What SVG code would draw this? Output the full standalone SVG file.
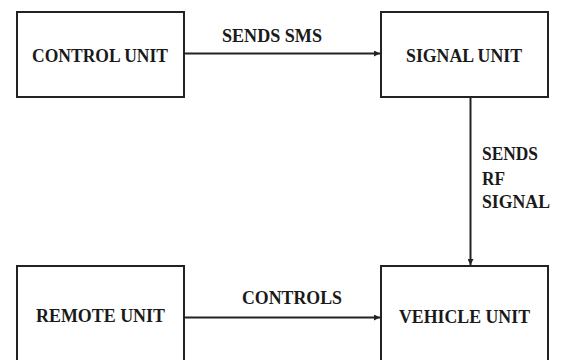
<svg xmlns="http://www.w3.org/2000/svg" width="561" height="360" viewBox="0 0 561 360">
  <style>
    .box { fill: #ffffff; stroke: #222222; stroke-width: 2; }
    .lbl { font-family: "Liberation Serif", "Times New Roman", serif; font-weight: bold; font-size: 19.5px; fill: #1a1a1a; }
    .wire { fill: none; stroke: #222222; stroke-width: 2; }
  </style>
  <defs>
    <marker id="tip" viewBox="0 0 6 6" refX="6" refY="3" markerWidth="6" markerHeight="6" markerUnits="userSpaceOnUse" orient="auto">
      <path d="M0,0 L6,3 L0,6 Z" fill="#222222"/>
    </marker>
  </defs>
  <rect width="561" height="360" fill="#ffffff"/>

  <g id="control-unit">
    <rect class="box" x="17" y="12" width="167" height="85"/>
    <text class="lbl" x="100" y="61.5" text-anchor="middle" textLength="136" lengthAdjust="spacingAndGlyphs">CONTROL UNIT</text>
  </g>
  <g id="signal-unit">
    <rect class="box" x="381" y="12" width="167" height="85"/>
    <text class="lbl" x="464" y="61.5" text-anchor="middle" textLength="116" lengthAdjust="spacingAndGlyphs">SIGNAL UNIT</text>
  </g>
  <g id="remote-unit">
    <rect class="box" x="17" y="266" width="167" height="100"/>
    <text class="lbl" x="100.5" y="322" text-anchor="middle" textLength="129" lengthAdjust="spacingAndGlyphs">REMOTE UNIT</text>
  </g>
  <g id="vehicle-unit">
    <rect class="box" x="381" y="266" width="167" height="100"/>
    <text class="lbl" x="464.5" y="322.5" text-anchor="middle" textLength="131" lengthAdjust="spacingAndGlyphs">VEHICLE UNIT</text>
  </g>

  <g id="connectors">
    <path class="wire" d="M184,53.5 H380" marker-end="url(#tip)"/>
    <text class="lbl" x="222" y="42" textLength="100" lengthAdjust="spacingAndGlyphs">SENDS SMS</text>
    <path class="wire" d="M470.5,97 V265" marker-end="url(#tip)"/>
    <text class="lbl" x="482" y="159.5" textLength="56" lengthAdjust="spacingAndGlyphs">SENDS</text>
    <text class="lbl" x="482" y="184.5" textLength="23" lengthAdjust="spacingAndGlyphs">RF</text>
    <text class="lbl" x="482" y="207.5" textLength="68" lengthAdjust="spacingAndGlyphs">SIGNAL</text>
    <path class="wire" d="M184,317.5 H380" marker-end="url(#tip)"/>
    <text class="lbl" x="242" y="304" textLength="100" lengthAdjust="spacingAndGlyphs">CONTROLS</text>
  </g>
</svg>
